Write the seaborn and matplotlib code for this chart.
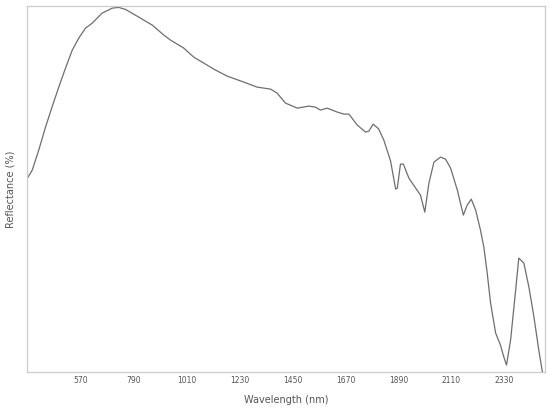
import matplotlib
matplotlib.use("Agg")
import matplotlib.pyplot as plt
import seaborn as sns
import pandas as pd

# spectrum (arbitrary reflectance scale)
wavelength = [350, 370, 397, 425, 452, 480, 508, 536, 563, 591, 619, 660, 702, 729, 757,
              812, 868, 916, 944, 999, 1040, 1082, 1123, 1179, 1248, 1303, 1359, 1386,
              1421, 1470, 1518, 1545, 1566, 1594, 1636, 1663, 1684, 1719, 1753, 1767,
              1785, 1808, 1829, 1857, 1878, 1885, 1898, 1910, 1933, 1961, 1981, 1999,
              2016, 2037, 2064, 2085, 2106, 2134, 2159, 2175, 2192, 2210, 2230, 2244,
              2258, 2272, 2293, 2313, 2327, 2338, 2355, 2376, 2389, 2410, 2431, 2452,
              2472, 2487, 2500]
reflectance = [20.2, 21.0, 23.0, 25.3, 27.3, 29.3, 31.2, 33.0, 34.2, 35.2, 35.7, 36.7, 37.2,
               37.27, 37.07, 36.3, 35.5, 34.5, 34.0, 33.2, 32.3, 31.7, 31.1, 30.4, 29.8,
               29.3, 29.1, 28.7, 27.7, 27.2, 27.4, 27.3, 27.0, 27.2, 26.8, 26.6, 26.6,
               25.5, 24.8, 24.9, 25.6, 25.1, 24.0, 21.9, 19.1, 19.2, 21.6, 21.6, 20.2,
               19.2, 18.5, 16.8, 19.7, 21.8, 22.3, 22.1, 21.2, 19.0, 16.5, 17.5, 18.1,
               17.0, 15.0, 13.3, 10.7, 7.7, 4.7, 3.5, 2.3, 1.5, 4.0, 9.0, 12.2, 11.7,
               9.3, 6.3, 3.0, 0.8, -0.5]
xticks = [570, 790, 1010, 1230, 1450, 1670, 1890, 2110, 2330]

df = pd.DataFrame({"Wavelength": wavelength, "Reflectance": reflectance})

sns.set_style("white")
fig = plt.figure(figsize=(5.5, 4.08), dpi=100)
ax = fig.add_axes([0.049, 0.088, 0.942, 0.897])

sns.lineplot(data=df, x="Wavelength", y="Reflectance", ax=ax, color="#6e6e6e", linewidth=0.9)

ax.set_xlim(348, 2498)
ax.set_ylim(0.8, 37.4)
ax.set_xticks(xticks)
ax.set_yticks([])
ax.tick_params(axis="x", labelsize=5.5, colors="#555555", length=1.5, width=0.5, pad=1.5)
for s in ax.spines.values():
    s.set_color("#cccccc")
    s.set_linewidth(0.9)

ax.set_xlabel("Wavelength (nm)", fontsize=7, color="#555555", labelpad=7)
ax.set_ylabel("Reflectance (%)", fontsize=7, color="#555555", labelpad=8)

fig.savefig("out.png", dpi=100)
